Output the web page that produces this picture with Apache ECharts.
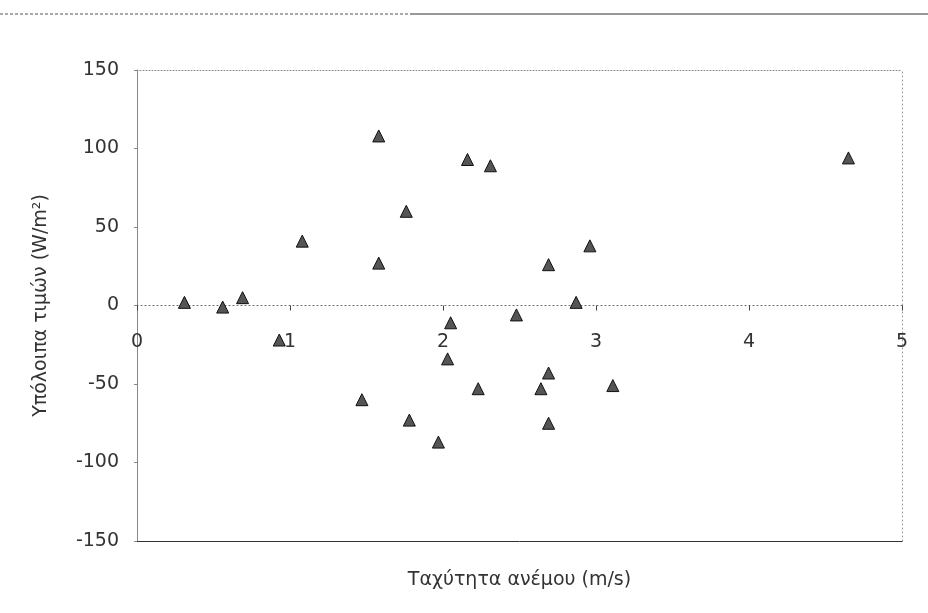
<!DOCTYPE html>
<html>
<head>
<meta charset="utf-8">
<script src="https://cdn.jsdelivr.net/npm/echarts@6/dist/echarts.min.js"></script>
<style>html,body{margin:0;padding:0;background:#fff}#c{width:928px;height:613px}</style>
</head>
<body>
<div id="c"></div>
<script>
const windSpeed = [0.31, 0.56, 0.69, 0.93, 1.08, 1.47, 1.58, 1.58, 1.76, 1.78, 1.97, 2.03, 2.05, 2.16, 2.23, 2.31, 2.48, 2.64, 2.69, 2.69, 2.69, 2.87, 2.96, 3.11, 4.65];
const residuals = [2, -1, 5, -22, 41, -60, 27, 108, 60, -73, -87, -34, -11, 93, -53, 89, -6, -53, 26, -43, -75, 2, 38, -51, 94];
const xTicks = [0, 1, 2, 3, 4, 5];
const yTicks = [-150, -100, -50, 0, 50, 100, 150];
const xTitle = 'Ταχύτητα ανέμου (m/s)';
const yTitle = 'Υπόλοιπα τιμών (W/m²)';

const FONT = 'DejaVu Sans';
const points = windSpeed.map((x, i) => [x, residuals[i]]);

const chart = echarts.init(document.getElementById('c'), null, {renderer: 'canvas'});
chart.setOption({
  animation: false,
  backgroundColor: '#ffffff',
  textStyle: {fontFamily: FONT},
  grid: {left: 137, right: 26, top: 70, bottom: 72, containLabel: false},
  graphic: [
    {type: 'line', shape: {x1: 0, y1: 14, x2: 410, y2: 14}, style: {stroke: '#555', lineWidth: 1, lineDash: [3, 2]}},
    {type: 'line', shape: {x1: 410, y1: 14, x2: 928, y2: 14}, style: {stroke: '#333', lineWidth: 1}}
  ],
  xAxis: [
    {
      type: 'value', min: xTicks[0], max: xTicks[xTicks.length - 1], interval: 1,
      position: 'bottom',
      axisLine: {onZero: true, lineStyle: {color: '#666', type: [1, 3], width: 1}},
      axisTick: {show: true, length: 5, lineStyle: {color: '#444'}},
      axisLabel: {fontSize: 19, color: '#333', margin: -208, fontFamily: FONT},
      splitLine: {show: false}
    },
    {
      type: 'value', min: xTicks[0], max: xTicks[xTicks.length - 1], interval: 1,
      position: 'top',
      axisLine: {onZero: false, lineStyle: {color: '#888', type: [1, 2]}},
      axisTick: {show: false}, axisLabel: {show: false}, splitLine: {show: false}
    },
    {
      type: 'value', min: xTicks[0], max: xTicks[xTicks.length - 1], interval: 1,
      position: 'bottom',
      axisLine: {onZero: false, lineStyle: {color: '#333', width: 1}},
      axisTick: {show: false}, axisLabel: {show: false}, splitLine: {show: false},
      name: xTitle, nameLocation: 'middle', nameGap: 30,
      nameTextStyle: {fontSize: 19, color: '#333', fontFamily: FONT}
    }
  ],
  yAxis: [
    {
      type: 'value', min: yTicks[0], max: yTicks[yTicks.length - 1], interval: 50,
      position: 'left',
      axisLine: {onZero: false, lineStyle: {color: '#888', width: 1}},
      axisTick: {show: true, length: 3, lineStyle: {color: '#888'}},
      axisLabel: {fontSize: 19, color: '#333', margin: 18, fontFamily: FONT},
      splitLine: {show: false},
      name: yTitle, nameLocation: 'middle', nameGap: 86, nameRotate: 90,
      nameTextStyle: {fontSize: 19, color: '#333', fontFamily: FONT}
    },
    {
      type: 'value', min: yTicks[0], max: yTicks[yTicks.length - 1], interval: 50,
      position: 'right',
      axisLine: {onZero: false, lineStyle: {color: '#999', type: [1, 3]}},
      axisTick: {show: false}, axisLabel: {show: false}, splitLine: {show: false}
    }
  ],
  series: [{
    type: 'scatter',
    xAxisIndex: 0, yAxisIndex: 0,
    data: points,
    symbol: 'triangle',
    symbolSize: 12,
    itemStyle: {color: '#555', borderColor: '#111', borderWidth: 1, opacity: 1}
  }]
});
</script>
</body>
</html>
